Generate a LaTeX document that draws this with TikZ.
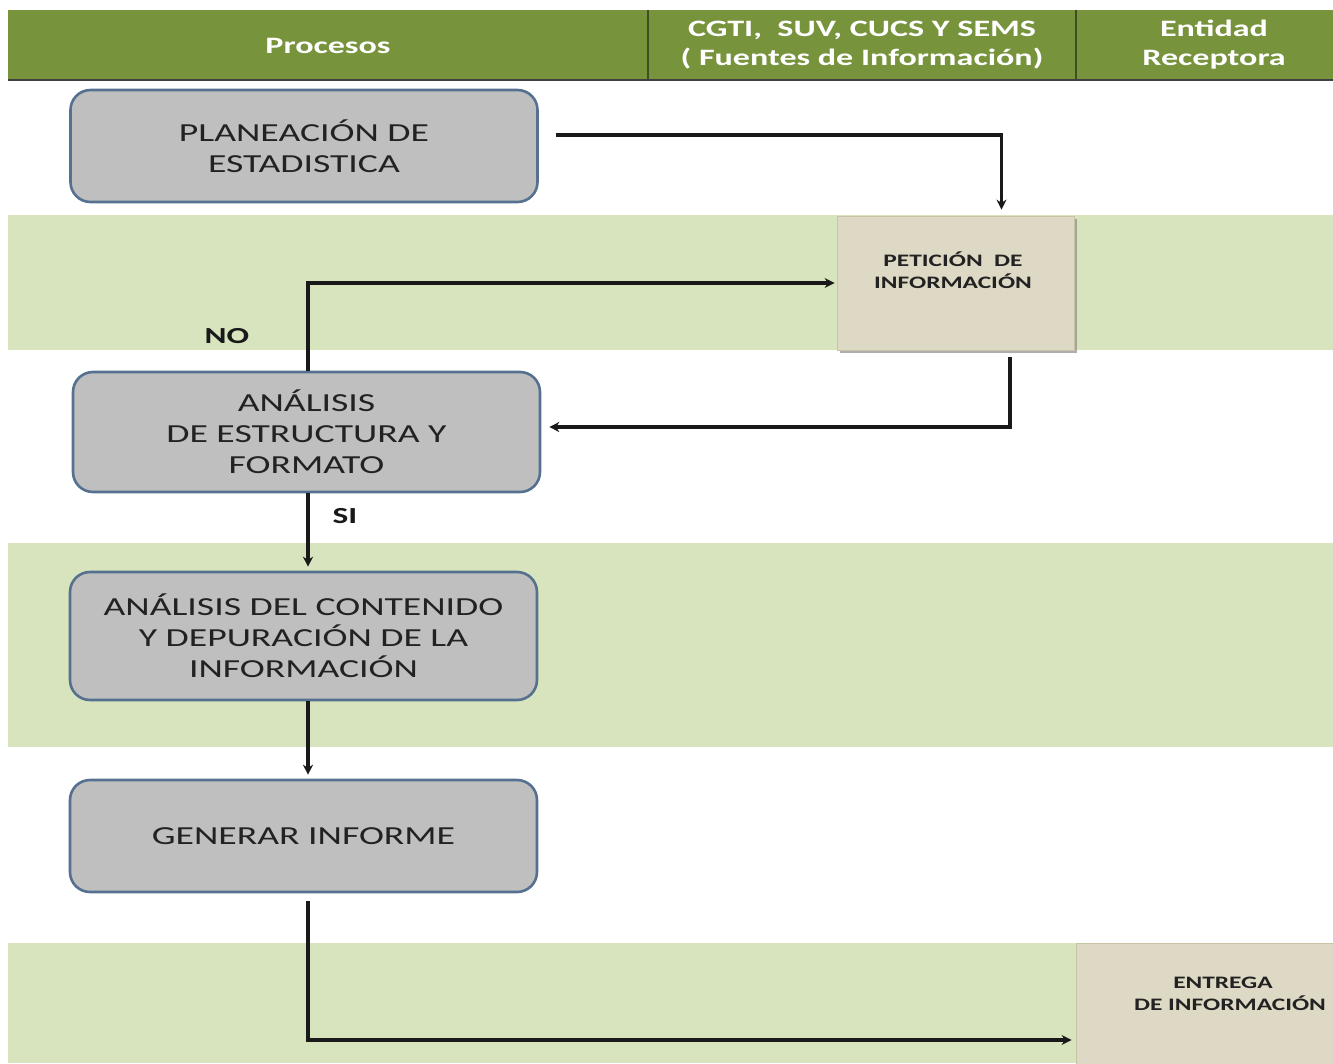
\documentclass[tikz,border=0pt]{standalone}
\usepackage{fontspec}
\setmainfont[FakeStretch=1.45]{Carlito}
\usetikzlibrary{arrows.meta,shadows}
\definecolor{hdrgreen}{HTML}{77933C}
\definecolor{hdrline}{HTML}{3F4F22}
\definecolor{bandgreen}{HTML}{D7E4BD}
\definecolor{boxgray}{HTML}{BFBFBF}
\definecolor{boxedge}{HTML}{55718F}
\definecolor{tanfill}{HTML}{DDD9C4}
\definecolor{tanedge}{HTML}{C9C3A6}
\definecolor{txtdark}{HTML}{222222}
\tikzset{
  procbox/.style={draw=boxedge, line width=2.6pt, fill=boxgray, rounded corners=20pt,
    minimum width=467pt, align=center, font=\fontsize{26}{31}\selectfont, text=txtdark, inner sep=0pt},
  tanbox/.style={draw=tanedge, line width=0.8pt, fill=tanfill,
    drop shadow={shadow xshift=3pt, shadow yshift=-3pt, fill=black!45, opacity=0.7}, inner sep=0pt},
  tantext/.style={align=center, font=\bfseries\fontsize{17.5}{22}\selectfont, text=txtdark},
  hdrtext/.style={align=center, font=\bfseries\fontsize{23.5}{29}\selectfont, text=white},
  flow/.style={line width=3.2pt, draw=black!90, -{Stealth[length=10pt,width=10pt]}},
  lbl/.style={font=\bfseries\fontsize{23}{28}\selectfont, text=black!90}
}
\begin{document}
\begin{tikzpicture}[x=1pt,y=-1pt]
\clip (0,0) rectangle (1333,1063);
\fill[white] (0,0) rectangle (1333,1063);
% bands
\fill[bandgreen] (8,215) rectangle (1333,350);
\fill[bandgreen] (8,543) rectangle (1333,747);
\fill[bandgreen] (8,943) rectangle (1333,1063);
% header
\fill[hdrgreen] (8,10) rectangle (1333,80);
\draw[hdrline, line width=2pt] (648,10) -- (648,80);
\draw[hdrline, line width=2pt] (1076,10) -- (1076,80);
\draw[black!75, line width=2.5pt] (8,80) -- (1333,80);
\node[hdrtext] (h1) at (328,46) {Procesos};
\node[hdrtext] (h2) at (862,45) {CGTI,\ \ SUV, CUCS Y SEMS\\( Fuentes de Información)};
\node[hdrtext] (h3) at (1214,45) {Entidad\\Receptora};
% process boxes
\node[procbox, minimum height=112pt] (plan) at (304,146) {PLANEACIÓN DE\\ESTADISTICA};
\node[procbox, minimum height=120pt] (ana1) at (306.5,432) {ANÁLISIS\\DE ESTRUCTURA Y\\FORMATO};
\node[procbox, minimum height=128pt] (ana2) at (303.5,636) {ANÁLISIS DEL CONTENIDO\\Y DEPURACIÓN DE LA\\INFORMACIÓN};
\node[procbox, minimum height=112pt] (gen) at (303.5,836) {GENERAR INFORME};
% tan boxes
\node[tanbox, minimum width=237pt, minimum height=134pt] (pet) at (955.5,283) {};
\node[tantext] (pett) at (953,270) {PETICIÓN\ \ DE\\INFORMACIÓN};
\node[tanbox, minimum width=257pt, minimum height=127pt] (ent) at (1204.5,1006.5) {};
\node[tantext] (entt) at (1230,994) {\hspace*{-14pt}ENTREGA\\DE INFORMACIÓN};
% connectors
\draw[flow] ([xshift=17pt,yshift=11pt]plan.east) -| ([xshift=46pt,yshift=6pt]pet.north);
\draw[flow] ([xshift=1.5pt]ana1.north) |- ([xshift=-2pt]pet.west);
\draw[flow] ([xshift=54.5pt,yshift=-7pt]pet.south) |- ([xshift=8pt,yshift=5pt]ana1.east);
\draw[flow] ([xshift=1.5pt]ana1.south) -- ([xshift=4.5pt,yshift=4pt]ana2.north);
\draw[flow] ([xshift=4.5pt]ana2.south) -- ([xshift=4.5pt,yshift=4pt]gen.north);
\draw[flow] ([xshift=4.5pt,yshift=-8pt]gen.south) |- ([xshift=-4pt,yshift=-33.5pt]ent.west);
% labels
\node[lbl] (no) at (227,336) {NO};
\node[lbl] (si) at (345,516) {SI};
\end{tikzpicture}
\end{document}
